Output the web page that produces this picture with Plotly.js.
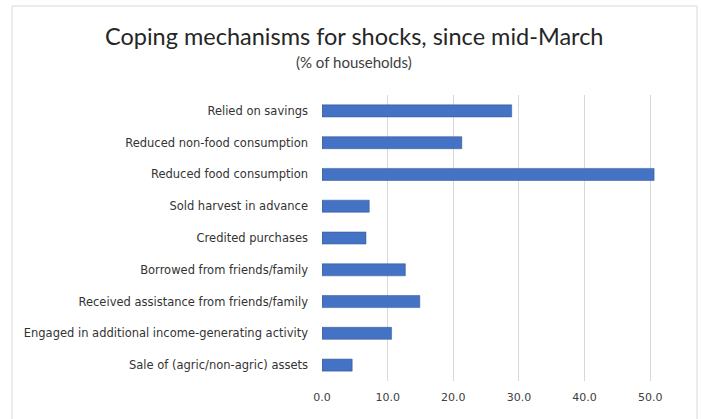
<!DOCTYPE html>
<html>
<head>
<meta charset="utf-8">
<script src="https://cdn.plot.ly/plotly-3.0.1.min.js"></script>
<style>html,body{margin:0;padding:0;background:#fff;}#chart{width:701px;height:419px;}</style>
</head>
<body>
<div id="chart"></div>
<script>
var categories = [
  "Relied on savings",
  "Reduced non-food consumption",
  "Reduced food consumption",
  "Sold harvest in advance",
  "Credited purchases",
  "Borrowed from friends/family",
  "Received assistance from friends/family",
  "Engaged in additional income-generating activity",
  "Sale of (agric/non-agric) assets"
];
var values = [28.9, 21.3, 50.6, 7.2, 6.7, 12.7, 14.9, 10.6, 4.6];
var xTickVals = [0, 10, 20, 30, 40, 50];
var xTickText = ["0.0", "10.0", "20.0", "30.0", "40.0", "50.0"];

var trace = {
  type: "bar",
  orientation: "h",
  y: categories,
  x: values,
  marker: {color: "#4472C4", line: {color: "#2F528F", width: 0.5}},
  hoverinfo: "x+y"
};

var L = 322, R = 18, T = 95, B = 38, W = 701, H = 419;
var plotW = W - L - R, plotH = H - T - B;
function px(x){return (x - L) / plotW;}
function py(y){return (H - B - y) / plotH;}

var layout = {
  width: W,
  height: H,
  margin: {l: L, r: R, t: T, b: B, pad: 0},
  paper_bgcolor: "#ffffff",
  plot_bgcolor: "#ffffff",
  font: {family: "'DejaVu Sans', sans-serif", color: "#404040", size: 11},
  showlegend: false,
  bargap: 0.62,
  annotations: [
    {text: "Coping mechanisms for shocks, since mid-March", xref: "paper", yref: "paper",
     x: px(354), y: py(36), xanchor: "center", yanchor: "middle", showarrow: false,
     font: {family: "Lato, sans-serif", size: 23.5, color: "#262626"}},
    {text: "(% of households)", xref: "paper", yref: "paper",
     x: px(354), y: py(62), xanchor: "center", yanchor: "middle", showarrow: false,
     font: {family: "Lato, sans-serif", size: 15, color: "#404040"}}
  ],
  xaxis: {
    range: [0, 55],
    tickvals: xTickVals,
    ticktext: xTickText,
    showgrid: true,
    gridcolor: "#d9d9d9",
    gridwidth: 1,
    zeroline: false,
    showline: false,
    ticks: "",
    ticklabelstandoff: 8,
    tickfont: {size: 11, color: "#404040"},
    fixedrange: true
  },
  yaxis: {
    categoryorder: "array",
    categoryarray: categories,
    autorange: "reversed",
    showgrid: false,
    zeroline: false,
    showline: false,
    ticks: "",
    ticklabelstandoff: 13,
    tickfont: {size: 11.5, color: "#333333"},
    fixedrange: true
  },
  shapes: [
    {type: "rect", xref: "paper", yref: "paper", x0: px(12), x1: px(697), y0: py(430), y1: py(6),
     line: {color: "#d9d9d9", width: 1}, fillcolor: "rgba(0,0,0,0)", layer: "below"}
  ]
};

Plotly.newPlot("chart", [trace], layout, {displayModeBar: false, staticPlot: true});
</script>
</body>
</html>
